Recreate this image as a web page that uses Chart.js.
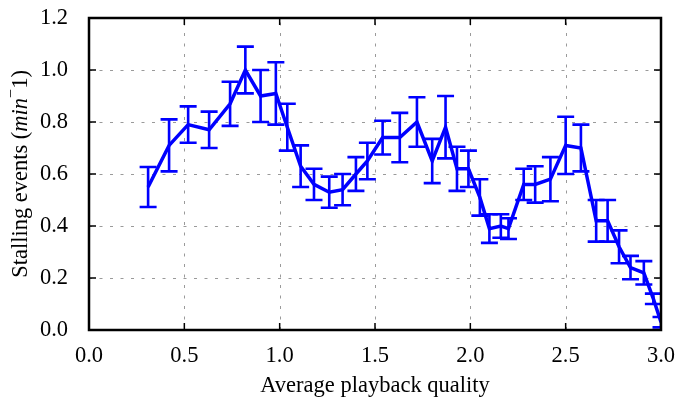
<!DOCTYPE html>
<html>
<head>
<meta charset="utf-8">
<script src="https://cdn.jsdelivr.net/npm/chart.js@4"></script>
<style>
  html, body { margin: 0; padding: 0; background: #fff; }
  #wrap { width: 689px; height: 399px; }
</style>
</head>
<body>
<div id="wrap"><canvas id="chart" width="689" height="399"></canvas></div>
<script>
// Data
const quality = [0.31, 0.42, 0.52, 0.63, 0.74, 0.82, 0.90, 0.98, 1.04, 1.11, 1.18, 1.26, 1.33, 1.40, 1.46, 1.54, 1.63, 1.72, 1.80, 1.87, 1.93, 1.99, 2.05, 2.10, 2.16, 2.20, 2.28, 2.34, 2.42, 2.50, 2.58, 2.66, 2.72, 2.78, 2.84, 2.91, 2.96, 3.00];
const stalls = [0.55, 0.71, 0.79, 0.77, 0.87, 1.00, 0.90, 0.91, 0.78, 0.63, 0.56, 0.53, 0.54, 0.60, 0.65, 0.74, 0.74, 0.80, 0.65, 0.78, 0.62, 0.62, 0.51, 0.39, 0.40, 0.39, 0.56, 0.56, 0.58, 0.71, 0.70, 0.42, 0.42, 0.32, 0.24, 0.22, 0.12, 0.03];
const errors = [0.077, 0.10, 0.07, 0.07, 0.085, 0.09, 0.10, 0.12, 0.09, 0.08, 0.06, 0.06, 0.06, 0.065, 0.07, 0.065, 0.095, 0.095, 0.085, 0.12, 0.085, 0.07, 0.07, 0.055, 0.045, 0.04, 0.06, 0.07, 0.085, 0.11, 0.09, 0.08, 0.08, 0.063, 0.045, 0.045, 0.02, 0.02];
const xTicks = [0.0, 0.5, 1.0, 1.5, 2.0, 2.5, 3.0];
const yTicks = [0.0, 0.2, 0.4, 0.6, 0.8, 1.0, 1.2];

const FONT = '"Liberation Serif", "DejaVu Serif", serif';
const FS = 22.5;
const BLUE = '#0000ff';

// dotted grid drawn under the data
const dottedGrid = {
    id: 'dottedGrid',
    beforeDatasetsDraw(chart) {
        const { ctx, chartArea: a, scales: { x, y } } = chart;
        ctx.save();
        ctx.strokeStyle = '#9a9a9a';
        ctx.lineWidth = 1;
        ctx.setLineDash([3, 7.5]);
        ctx.beginPath();
        xTicks.forEach(t => {
            const px = Math.round(x.getPixelForValue(t)) + 0.5;
            ctx.moveTo(px, a.bottom); ctx.lineTo(px, a.top);
        });
        yTicks.forEach(t => {
            const py = Math.round(y.getPixelForValue(t)) + 0.5;
            ctx.moveTo(a.left, py); ctx.lineTo(a.right, py);
        });
        ctx.stroke();
        ctx.restore();
    }
};

// error bars with caps
const errorBars = {
    id: 'errorBars',
    afterDatasetsDraw(chart) {
        const { ctx, chartArea, scales: { x, y } } = chart;
        ctx.save();
        ctx.beginPath();
        ctx.rect(chartArea.left, chartArea.top, chartArea.width, chartArea.height);
        ctx.clip();
        ctx.strokeStyle = BLUE;
        ctx.lineWidth = 2.6;
        quality.forEach((q, i) => {
            const px = x.getPixelForValue(q);
            const top = y.getPixelForValue(stalls[i] + errors[i]);
            const bot = y.getPixelForValue(stalls[i] - errors[i]);
            ctx.beginPath();
            ctx.moveTo(px, top); ctx.lineTo(px, bot);
            ctx.moveTo(px - 8.5, top); ctx.lineTo(px + 8.5, top);
            ctx.moveTo(px - 8.5, bot); ctx.lineTo(px + 8.5, bot);
            ctx.stroke();
        });
        ctx.restore();
    }
};

// frame, inward ticks and axis titles
const frame = {
    id: 'frame',
    afterDraw(chart) {
        const { ctx, chartArea: a, scales: { x, y } } = chart;
        ctx.save();
        ctx.strokeStyle = '#000';
        ctx.lineWidth = 1.5;
        ctx.beginPath();
        xTicks.forEach(t => {
            const px = x.getPixelForValue(t);
            ctx.moveTo(px, a.bottom); ctx.lineTo(px, a.bottom - 7);
            ctx.moveTo(px, a.top); ctx.lineTo(px, a.top + 7);
        });
        yTicks.forEach(t => {
            const py = y.getPixelForValue(t);
            ctx.moveTo(a.left, py); ctx.lineTo(a.left + 7, py);
            ctx.moveTo(a.right, py); ctx.lineTo(a.right - 7, py);
        });
        ctx.stroke();
        ctx.lineWidth = 2.5;
        ctx.strokeRect(a.left, a.top, a.right - a.left, a.bottom - a.top);

        // x title
        ctx.fillStyle = '#000';
        ctx.font = FS + 'px ' + FONT;
        ctx.textAlign = 'center';
        ctx.textBaseline = 'middle';
        ctx.fillText('Average playback quality', (a.left + a.right) / 2, 386);

        // y title with italic "min" and superscript minus
        const parts = [
            { t: 'Stalling events (', f: FS + 'px ' + FONT, dy: 0 },
            { t: 'min', f: 'italic ' + FS + 'px ' + FONT, dy: 0 },
            { t: '\u2212', f: '16px ' + FONT, dy: -9 },
            { t: '1)', f: FS + 'px ' + FONT, dy: 0 }
        ];
        let total = 0;
        parts.forEach(p => { ctx.font = p.f; p.w = ctx.measureText(p.t).width; total += p.w; });
        ctx.translate(21, (a.top + a.bottom) / 2);
        ctx.rotate(-Math.PI / 2);
        ctx.textAlign = 'left';
        ctx.textBaseline = 'middle';
        let cx = -total / 2;
        parts.forEach(p => {
            ctx.font = p.f;
            ctx.fillText(p.t, cx, p.dy);
            cx += p.w;
        });
        ctx.restore();
    }
};

new Chart(document.getElementById('chart'), {
    type: 'line',
    data: {
        datasets: [{
            data: quality.map((q, i) => ({ x: q, y: stalls[i] })),
            borderColor: BLUE,
            borderWidth: 3.5,
            pointRadius: 0,
            tension: 0,
            fill: false
        }]
    },
    options: {
        responsive: false,
        animation: false,
        layout: { padding: { left: 0, right: 28, top: 18, bottom: 0 } },
        plugins: { legend: { display: false }, tooltip: { enabled: false } },
        scales: {
            x: {
                type: 'linear',
                min: 0, max: 3,
                afterBuildTicks: s => { s.ticks = xTicks.map(v => ({ value: v })); },
                afterFit: s => { s.height = 69; s.paddingLeft = 0; s.paddingRight = 0; },
                ticks: {
                    color: '#000',
                    font: { family: FONT, size: FS },
                    padding: 5,
                    maxRotation: 0,
                    callback: v => v.toFixed(1)
                },
                grid: { display: false },
                border: { display: false }
            },
            y: {
                min: 0, max: 1.2,
                afterBuildTicks: s => { s.ticks = yTicks.map(v => ({ value: v })); },
                afterFit: s => { s.width = 89; s.paddingTop = 0; s.paddingBottom = 0; },
                ticks: {
                    color: '#000',
                    font: { family: FONT, size: FS },
                    padding: 13,
                    callback: v => v.toFixed(1)
                },
                grid: { display: false },
                border: { display: false }
            }
        }
    },
    plugins: [dottedGrid, errorBars, frame]
});
</script>
</body>
</html>
